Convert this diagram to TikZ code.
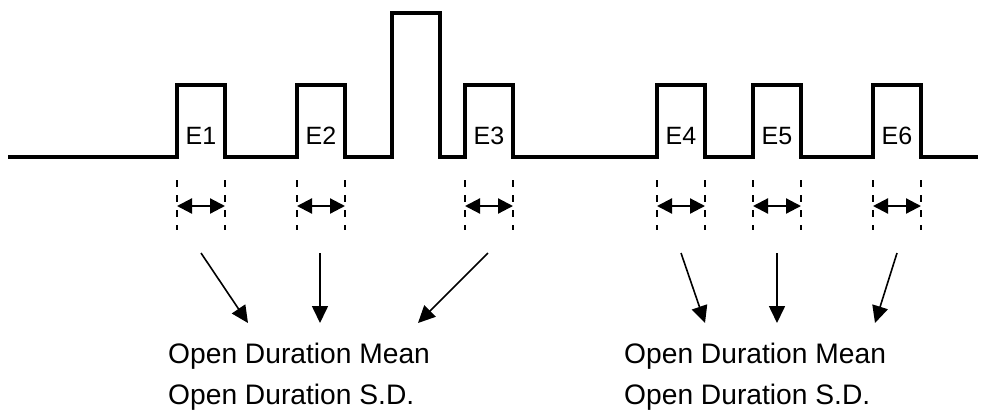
\documentclass[tikz,border=0pt]{standalone}
\usepackage{fontspec}
\setmainfont{Liberation Sans}
\usetikzlibrary{arrows.meta}
\begin{document}
\begin{tikzpicture}[x=1pt,y=-1pt,
  wave/.style={line width=3.2pt,line join=miter},
  edgeline/.style={line width=1.4pt,dash pattern=on 7pt off 8pt},
  durarrow/.style={line width=2.2pt,{Triangle[length=15pt,width=15pt]}-{Triangle[length=15pt,width=15pt]}},
  feed/.style={line width=1.6pt,-{Triangle[length=17pt,width=16pt]}},
  elabel/.style={font=\fontsize{25}{30}\selectfont,inner sep=0pt},
  stat/.style={font=\fontsize{28.2}{33}\selectfont,inner sep=0pt,anchor=west}]
\useasboundingbox (0,0) rectangle (990,416);
% waveform
\draw[wave] (8,157) -- (177,157) -- (177,85) -- (225,85) -- (225,157)
  -- (297,157) -- (297,85) -- (345,85) -- (345,157)
  -- (392,157) -- (392,13) -- (440,13) -- (440,157)
  -- (465,157) -- (465,85) -- (513,85) -- (513,157)
  -- (657,157) -- (657,85) -- (705,85) -- (705,157)
  -- (753,157) -- (753,85) -- (801,85) -- (801,157)
  -- (873,157) -- (873,85) -- (921,85) -- (921,157) -- (978,157);
% labels
\foreach \n/\a/\b in {1/177/225,2/297/345,3/465/513,4/657/705,5/753/801,6/873/921}{
  \node[elabel] (E\n) at ({(\a+\b)/2},136) {E\n};
  \coordinate (L\n t) at (\a,180);
  \coordinate (L\n b) at (\a,230);
  \coordinate (R\n t) at (\b,180);
  \coordinate (R\n b) at (\b,230);
  \coordinate (L\n m) at (\a,206);
  \coordinate (R\n m) at (\b,206);
  \draw[edgeline] (L\n t) -- (L\n b);
  \draw[edgeline] (R\n t) -- (R\n b);
  \draw[durarrow] (L\n m) -- (R\n m);
}
% statistics text
\node[stat] (meanA) at (168,356) {Open Duration Mean};
\node[stat] (sdA) at (168,397) {Open Duration S.D.};
\node[stat] (meanB) at (624,356) {Open Duration Mean};
\node[stat] (sdB) at (624,397) {Open Duration S.D.};
% arrows
\coordinate (s1) at (201,253); \coordinate (t1) at (248,323);
\coordinate (s2) at (320,253); \coordinate (t2) at (320,323);
\coordinate (s3) at (488,253); \coordinate (t3) at (418,323);
\coordinate (s4) at (681,253); \coordinate (t4) at (705,323);
\coordinate (s5) at (777,253); \coordinate (t5) at (777,323);
\coordinate (s6) at (897,253); \coordinate (t6) at (875,323);
\foreach \i in {1,...,6}{\draw[feed] (s\i) -- (t\i);}
\end{tikzpicture}
\end{document}
